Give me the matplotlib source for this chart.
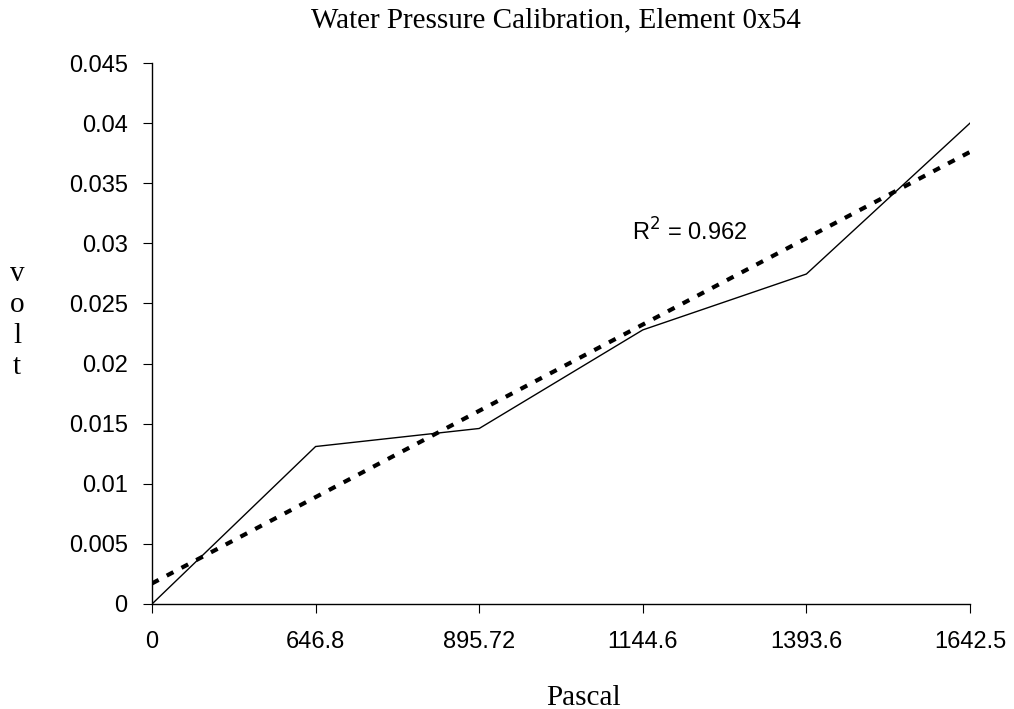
import numpy as np
import matplotlib
matplotlib.use("Agg")
import matplotlib.pyplot as plt

# Calibration readings for element 0x54
pascal_labels = ["0", "646.8", "895.72", "1144.6", "1393.6", "1642.5"]
volts = [0.0, 0.0131, 0.0146, 0.0228, 0.02745, 0.0400]
r_squared_label = "0.962"

y_ticks = [0, 0.005, 0.01, 0.015, 0.02, 0.025, 0.03, 0.035, 0.04, 0.045]
y_tick_labels = ["0", "0.005", "0.01", "0.015", "0.02", "0.025", "0.03", "0.035", "0.04", "0.045"]

serif = "Liberation Serif"
sans = "Liberation Sans"

fig = plt.figure(figsize=(10.14, 7.09), dpi=100)
ax = fig.add_axes([0.1499, 0.1481, 0.9566 - 0.1499, 0.9111 - 0.1481])

idx = np.arange(len(pascal_labels))
ax.plot(idx, volts, color="black", linewidth=1.0, solid_joinstyle="miter")

# Linear trendline over category index
slope, intercept = np.polyfit(idx, volts, 1)
ax.plot(idx, slope * idx + intercept, color="black", linewidth=3.0,
        linestyle=(0, (1.8, 2.2)), dash_capstyle="butt")

ax.text(2.935, 0.0302, "R$^2$ = " + r_squared_label, fontsize=17, family=sans,
        ha="left", va="baseline")

ax.set_xlim(0, len(pascal_labels) - 1)
ax.set_ylim(0, 0.045)
ax.set_xticks(idx)
ax.set_xticklabels(pascal_labels, family=sans, fontsize=17)
ax.set_yticks(y_ticks)
ax.set_yticklabels(y_tick_labels, family=sans, fontsize=17)

ax.spines["top"].set_visible(False)
ax.spines["right"].set_visible(False)
for s in ("left", "bottom"):
    ax.spines[s].set_linewidth(1.0)
ax.tick_params(axis="y", direction="out", length=6.5, width=0.8, pad=11)
ax.tick_params(axis="x", direction="out", length=6.5, width=0.8, pad=13)

fig.text(0.548, 0.962, "Water Pressure Calibration, Element 0x54", family=serif,
         fontsize=21, ha="center", va="baseline")
fig.text(0.575, 0.0056, "Pascal", family=serif, fontsize=21, ha="center", va="baseline")
fig.text(0.017, 0.548, "v\no\nl\nt", family=serif, fontsize=21, ha="center",
         va="center", linespacing=1.25)

fig.savefig("out.png", dpi=100)
